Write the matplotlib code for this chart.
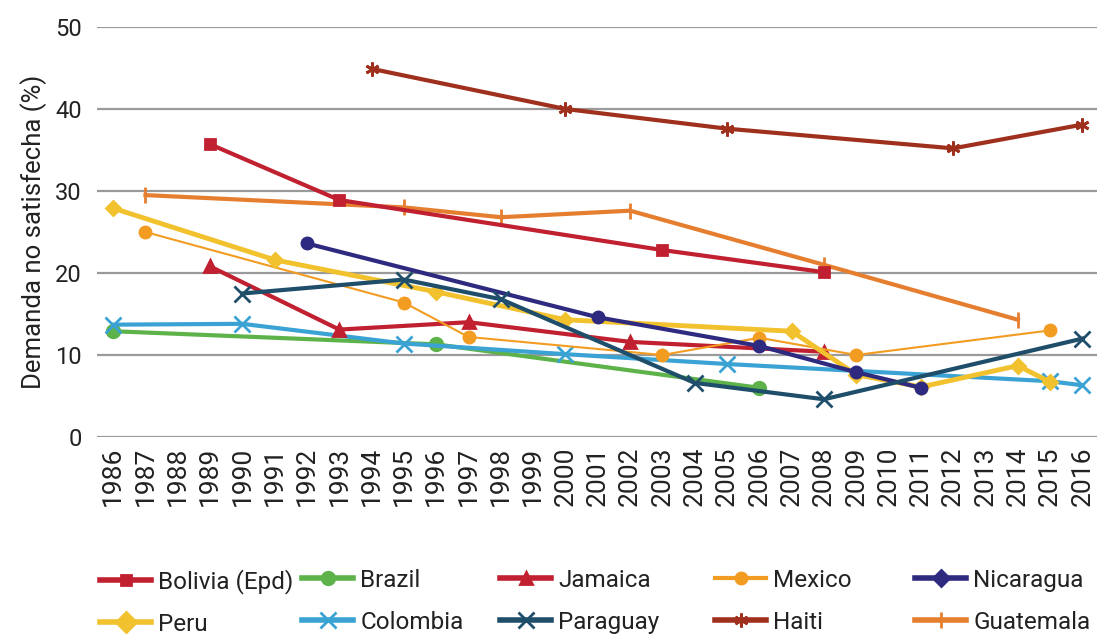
import matplotlib
matplotlib.use('Agg')
import matplotlib.pyplot as plt
from matplotlib.lines import Line2D

# years on the category axis
years = list(range(1986, 2017))

# series: (years, values)
bolivia_x = [1989, 1993, 2003, 2008]
bolivia_y = [35.7, 28.9, 22.8, 20.1]

brazil_x = [1986, 1996, 2006]
brazil_y = [12.9, 11.3, 6.0]

jamaica_x = [1989, 1993, 1997, 2002, 2008]
jamaica_y = [20.8, 13.1, 14.0, 11.6, 10.4]

mexico_x = [1987, 1995, 1997, 2003, 2006, 2009, 2015]
mexico_y = [25.0, 16.4, 12.2, 10.0, 12.1, 10.0, 13.0]

nicaragua_x = [1992, 2001, 2006, 2009, 2011]
nicaragua_y = [23.6, 14.6, 11.1, 7.9, 6.0]

peru_x = [1986, 1991, 1996, 2000, 2007, 2009, 2011, 2014, 2015]
peru_y = [27.9, 21.6, 17.7, 14.3, 12.9, 7.6, 6.1, 8.7, 6.7]

colombia_x = [1986, 1990, 1995, 2000, 2005, 2015, 2016]
colombia_y = [13.7, 13.8, 11.4, 10.1, 8.9, 6.8, 6.3]

paraguay_x = [1990, 1995, 1998, 2004, 2008, 2016]
paraguay_y = [17.5, 19.2, 16.8, 6.6, 4.6, 12.0]

haiti_x = [1994, 2000, 2005, 2012, 2016]
haiti_y = [44.9, 40.0, 37.6, 35.2, 38.1]

guatemala_x = [1987, 1995, 1998, 2002, 2008, 2014]
guatemala_y = [29.5, 28.0, 26.8, 27.6, 21.0, 14.3]

plt.rcParams['font.family'] = ['Roboto', 'DejaVu Sans']

fig = plt.figure(figsize=(10.97, 6.36), dpi=100)
ax = fig.add_axes([97 / 1097, 1 - 437 / 636, 1 - 97 / 1097, (437 - 27) / 636])

# name, x, y, color, marker, marker size, line width
series = [
    ('Guatemala', guatemala_x, guatemala_y, '#E67E30', '|', 11, 3),
    ('Haiti', haiti_x, haiti_y, '#A0301E', (6, 2, 0), 10, 3),
    ('Bolivia (Epd)', bolivia_x, bolivia_y, '#C0202F', 's', 7, 3),
    ('Brazil', brazil_x, brazil_y, '#5DB34A', 'o', 9, 3),
    ('Colombia', colombia_x, colombia_y, '#3BA3D4', 'x', 11, 3),
    ('Jamaica', jamaica_x, jamaica_y, '#C0202F', '^', 8, 3),
    ('Mexico', mexico_x, mexico_y, '#F29C22', 'o', 8, 1.5),
    ('Peru', peru_x, peru_y, '#F2C12E', 'D', 7, 3.5),
    ('Nicaragua', nicaragua_x, nicaragua_y, '#2E2A7F', 'o', 8, 3),
    ('Paraguay', paraguay_x, paraguay_y, '#1F4E6B', 'x', 11, 3),
]

handles = {}
for name, xs, ys, c, m, ms, lw in series:
    ax.plot(xs, ys, color=c, lw=lw, marker=m, ms=ms, mew=2, mec=c, mfc=c,
            solid_joinstyle='round', clip_on=False)
    lm = 'D' if name == 'Nicaragua' else m
    handles[name] = Line2D([], [], color=c, lw=4 if lw > 2 else 3, marker=lm,
                           ms=ms if name != 'Peru' else 10, mew=2, mec=c, mfc=c)

ax.set_xlim(1985.5, 2016.45)
ax.set_ylim(0, 50)
ax.set_yticks([0, 10, 20, 30, 40, 50])
ax.set_xticks(years)
ax.set_xticklabels([str(y) for y in years], rotation=90, fontsize=19, color='#222222')
ax.tick_params(axis='y', length=0, pad=11, labelsize=17, labelcolor='#222222')
ax.tick_params(axis='x', length=0, pad=7)
ax.grid(axis='y', color='#9a9a9a', lw=1.6)
ax.set_axisbelow(True)
for s in ax.spines.values():
    s.set_visible(False)
ax.set_ylabel('Demanda no satisfecha (%)', fontsize=18.5, color='#222222', labelpad=6)

# legend: five columns of two entries each
cols = [('Bolivia (Epd)', 'Peru'), ('Brazil', 'Colombia'), ('Jamaica', 'Paraguay'),
        ('Mexico', 'Haiti'), ('Nicaragua', 'Guatemala')]
col_x = [100, 302, 500, 715, 915]
for (a, b), x0 in zip(cols, col_x):
    leg = fig.legend([handles[a], handles[b]], [a, b], loc='upper left',
                     bbox_to_anchor=(x0 / 1097, 1 - 569 / 636), frameon=False,
                     fontsize=17.5, handlelength=2.1, handletextpad=0.3,
                     labelspacing=0.78, borderpad=0, borderaxespad=0)
    for t in leg.get_texts():
        t.set_color('#222222')

fig.savefig('out.png', dpi=100)
